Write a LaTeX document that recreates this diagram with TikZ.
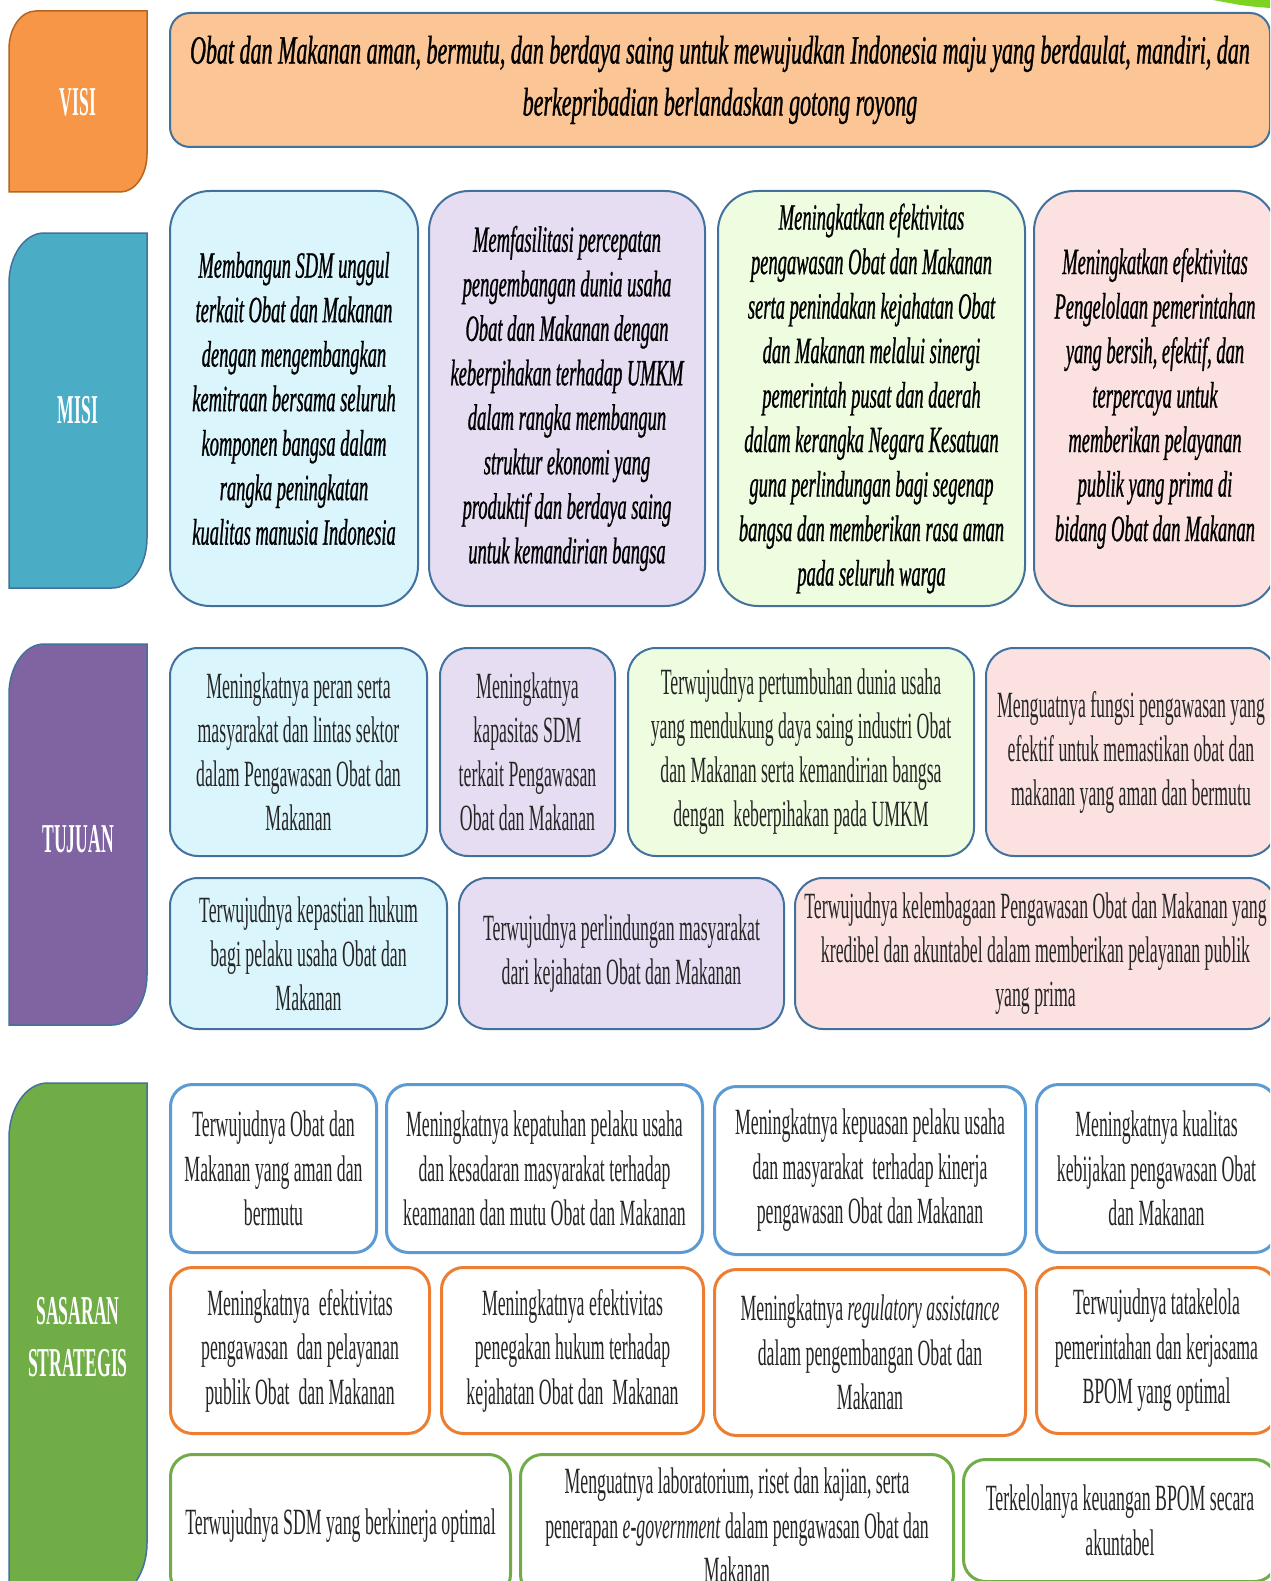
\documentclass[tikz,border=0pt]{standalone}
\usepackage{fontspec}
\setmainfont{Liberation Serif}[FakeStretch=0.48]
\newfontfamily\visifont{Liberation Serif}[FakeStretch=0.55, FakeBold=0.8]
\newfontfamily\misifont{Liberation Serif}[FakeStretch=0.5, FakeBold=0.7]
\newfontfamily\labfont{Liberation Serif}[FakeStretch=0.43]
\definecolor{bordblue}{HTML}{41719C}
\definecolor{visiL}{HTML}{F79646}
\definecolor{visiLb}{HTML}{B5651D}
\definecolor{misiL}{HTML}{4BACC6}
\definecolor{tujL}{HTML}{8064A2}
\definecolor{sasL}{HTML}{70AD47}
\definecolor{peach}{HTML}{FBC595}
\definecolor{lcyan}{HTML}{DBF5FC}
\definecolor{llav}{HTML}{E6DDF3}
\definecolor{lgreen}{HTML}{EEFCE0}
\definecolor{lpink}{HTML}{FCE1E1}
\definecolor{sblue}{HTML}{5B9BD5}
\definecolor{sorange}{HTML}{ED7D31}
\definecolor{sgreen}{HTML}{70AD47}
\definecolor{txt}{HTML}{262626}
\definecolor{swoosh}{HTML}{7ED321}
\tikzset{
  labtext/.style={text=white, font=\labfont\bfseries\fontsize{41}{52}\selectfont, align=center, inner sep=0pt},
  cbox/.style={draw=bordblue, line width=2pt, anchor=north west, align=center, inner sep=0pt},
  misibox/.style={cbox, rounded corners=40pt, text=black, font=\misifont\itshape\fontsize{37}{44.5}\selectfont},
  tujbox/.style={cbox, rounded corners=28pt, text=txt, font=\fontsize{37}{44}\selectfont},
  sasbox/.style={cbox, line width=3pt, fill=white, rounded corners=22pt, text=txt, font=\fontsize{37}{44.5}\selectfont},
}
% label shape: top-left and bottom-right rounded
\newcommand{\labshape}[7]{% #1 fill, #2 border, #3 x1, #4 y1, #5 x2, #6 y2, #7 ry
  \draw[fill=#1, draw=#2, line width=1.5pt]
    (#3,#6) -- (#3,#4+#7) .. controls (#3,#4+0.45*#7) and (#3+0.45*0.7*#7,#4) .. (#3+0.7*#7,#4)
    -- (#5,#4) -- (#5,#6-#7) .. controls (#5,#6-0.45*#7) and (#5-0.45*0.7*#7,#6) .. (#5-0.7*#7,#6)
    -- cycle;}
\begin{document}
\begin{tikzpicture}[x=1pt,y=-1pt]
\useasboundingbox (0,0) rectangle (1270,1581);
\clip (0,0) rectangle (1270,1581);
\fill[white] (0,0) rectangle (1270,1581);
\fill[swoosh] (1213,0) -- (1270,0) -- (1270,8) .. controls (1245,6) .. (1213,0) -- cycle;

% ---- left labels ----
\labshape{visiL}{visiLb}{9}{11}{147}{192}{38}
\node[labtext] (lvisi) at (78,102) {VISI};
\labshape{misiL}{bordblue}{9}{233}{147}{588}{50}
\node[labtext] (lmisi) at (78,410) {MISI};
\labshape{tujL}{bordblue}{9}{644}{147}{1025}{50}
\node[labtext] (ltuj) at (78,839) {TUJUAN};
\labshape{sasL}{bordblue}{9}{1083}{147}{1598}{55}
\node[labtext] (lsas) at (78,1337) {SASARAN\\STRATEGIS};

% ---- visi ----
\node[cbox, rounded corners=20pt, fill=peach, minimum width=1100pt, minimum height=134pt,
  font=\visifont\itshape\fontsize{40}{52}\selectfont, text=black] (visi) at (169,12)
  {Obat dan Makanan aman, bermutu, dan berdaya saing untuk mewujudkan Indonesia maju yang berdaulat, mandiri, dan\\berkepribadian berlandaskan gotong royong};

% ---- misi ----
\node[misibox, fill=lcyan, minimum width=248pt, minimum height=415pt] (m1) at (169,190)
  {Membangun SDM unggul\\terkait Obat dan Makanan\\dengan mengembangkan\\kemitraan bersama seluruh\\komponen bangsa dalam\\rangka peningkatan\\kualitas manusia Indonesia};
\node[misibox, fill=llav, minimum width=276pt, minimum height=415pt] (m2) at (428,190)
  {Memfasilitasi percepatan\\pengembangan dunia usaha\\Obat dan Makanan dengan\\keberpihakan terhadap UMKM\\dalam rangka membangun\\struktur ekonomi yang\\produktif dan berdaya saing\\untuk kemandirian bangsa};
\node[misibox, fill=lgreen, minimum width=307pt, minimum height=415pt] (m3) at (717,190)
  {Meningkatkan efektivitas\\pengawasan Obat dan Makanan\\serta penindakan kejahatan Obat\\dan Makanan melalui sinergi\\pemerintah pusat dan daerah\\dalam kerangka Negara Kesatuan\\guna perlindungan bagi segenap\\bangsa dan memberikan rasa aman\\pada seluruh warga};
\node[misibox, fill=lpink, minimum width=242pt, minimum height=415pt] (m4) at (1033,190)
  {Meningkatkan efektivitas\\Pengelolaan pemerintahan\\yang bersih, efektif, dan\\terpercaya untuk\\memberikan pelayanan\\publik yang prima di\\bidang Obat dan Makanan};

% ---- tujuan ----
\node[tujbox, fill=lcyan, minimum width=257pt, minimum height=208pt] (t1) at (169,647)
  {Meningkatnya peran serta\\masyarakat dan lintas sektor\\dalam Pengawasan Obat dan\\Makanan};
\node[tujbox, fill=llav, minimum width=175pt, minimum height=208pt] (t2) at (439,647)
  {Meningkatnya\\kapasitas SDM\\terkait Pengawasan\\Obat dan Makanan};
\node[tujbox, fill=lgreen, minimum width=346pt, minimum height=208pt] (t3) at (627,647)
  {Terwujudnya pertumbuhan dunia usaha\\yang mendukung daya saing industri Obat\\dan Makanan serta kemandirian bangsa\\dengan\ \ keberpihakan pada UMKM};
\node[tujbox, fill=lpink, minimum width=290pt, minimum height=208pt] (t4) at (985,647)
  {Menguatnya fungsi pengawasan yang\\efektif untuk memastikan obat dan\\makanan yang aman dan bermutu};
\node[tujbox, fill=lcyan, minimum width=277pt, minimum height=151pt] (t5) at (169,877)
  {Terwujudnya kepastian hukum\\bagi pelaku usaha Obat dan\\Makanan};
\node[tujbox, fill=llav, minimum width=325pt, minimum height=151pt] (t6) at (458,877)
  {Terwujudnya perlindungan masyarakat\\dari kejahatan Obat dan Makanan};
\node[tujbox, fill=lpink, minimum width=481pt, minimum height=151pt] (t7) at (794,877)
  {Terwujudnya kelembagaan Pengawasan Obat dan Makanan yang\\kredibel dan akuntabel dalam memberikan pelayanan publik\\yang prima};

% ---- sasaran strategis ----
\node[sasbox, draw=sblue, minimum width=206pt, minimum height=168pt] (s1) at (169,1083)
  {Terwujudnya Obat dan\\Makanan yang aman dan\\bermutu};
\node[sasbox, draw=sblue, minimum width=316pt, minimum height=168pt] (s2) at (385,1083)
  {Meningkatnya kepatuhan pelaku usaha\\dan kesadaran masyarakat terhadap\\keamanan dan mutu Obat dan Makanan};
\node[sasbox, draw=sblue, minimum width=311pt, minimum height=168pt] (s3) at (713,1085)
  {Meningkatnya kepuasan pelaku usaha\\dan masyarakat\ \ terhadap kinerja\\pengawasan Obat dan Makanan};
\node[sasbox, draw=sblue, minimum width=240pt, minimum height=168pt] (s4) at (1035,1083)
  {Meningkatnya kualitas\\kebijakan pengawasan Obat\\dan Makanan};
\node[sasbox, draw=sorange, minimum width=259pt, minimum height=166pt] (s5) at (169,1266)
  {Meningkatnya\ \ efektivitas\\pengawasan\ \ dan pelayanan\\publik Obat\ \ dan Makanan};
\node[sasbox, draw=sorange, minimum width=262pt, minimum height=166pt] (s6) at (440,1266)
  {Meningkatnya efektivitas\\penegakan hukum terhadap\\kejahatan Obat dan\ \ Makanan};
\node[sasbox, draw=sorange, minimum width=311pt, minimum height=166pt] (s7) at (713,1268)
  {Meningkatnya \textit{regulatory assistance}\\dalam pengembangan Obat dan\\Makanan};
\node[sasbox, draw=sorange, minimum width=240pt, minimum height=166pt] (s8) at (1035,1266)
  {Terwujudnya tatakelola\\pemerintahan dan kerjasama\\BPOM yang optimal};
\node[sasbox, draw=sgreen, minimum width=340pt, minimum height=142pt] (s9) at (169,1453)
  {Terwujudnya SDM yang berkinerja optimal};
\node[sasbox, draw=sgreen, minimum width=433pt, minimum height=142pt] (s10) at (519,1453)
  {Menguatnya laboratorium, riset dan kajian, serta\\penerapan \textit{e-government} dalam pengawasan Obat dan\\Makanan};
\node[sasbox, draw=sgreen, minimum width=313pt, minimum height=122pt] (s11) at (962,1458)
  {Terkelolanya keuangan BPOM secara\\akuntabel};
\end{tikzpicture}
\end{document}
